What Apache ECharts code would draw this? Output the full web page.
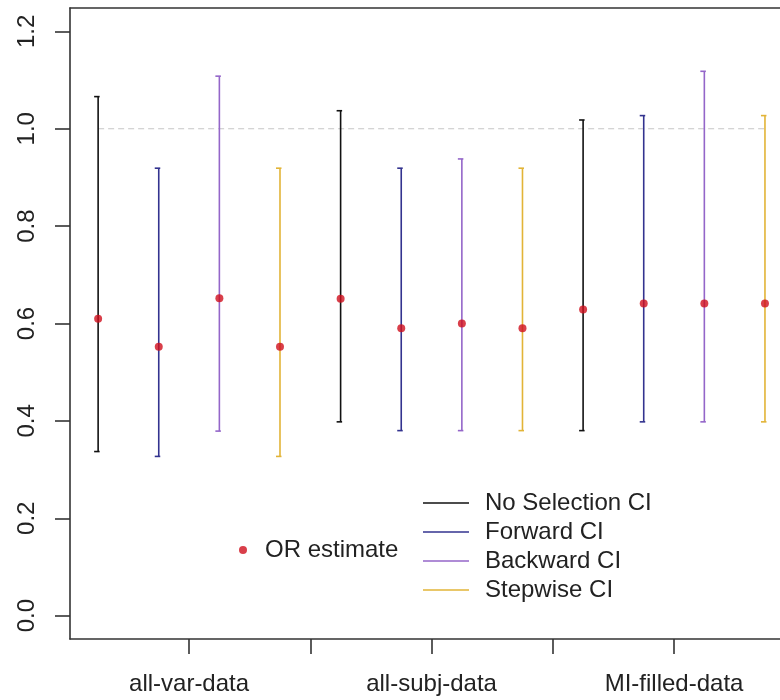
<!DOCTYPE html>
<html>
<head>
<meta charset="utf-8">
<script src="https://cdn.jsdelivr.net/npm/echarts@6/dist/echarts.min.js"></script>
<style>html,body{margin:0;padding:0;background:#fff}#c{width:780px;height:700px}</style>
</head>
<body>
<div id="c"></div>
<script>
// ---- data ----
var groups = ['all-var-data', 'all-subj-data', 'MI-filled-data'];
var methods = ['No Selection CI', 'Forward CI', 'Backward CI', 'Stepwise CI'];
var methodColors = ['#111111', '#33338f', '#9466c9', '#e2b437'];

var noSelEst   = [0.610, 0.651, 0.629];
var forwardEst = [0.552, 0.590, 0.641];
var backwardEst= [0.652, 0.600, 0.641];
var stepwiseEst= [0.552, 0.590, 0.641];

var noSelLo    = [0.337, 0.398, 0.380];
var noSelHi    = [1.066, 1.037, 1.018];
var forwardLo  = [0.327, 0.380, 0.398];
var forwardHi  = [0.919, 0.919, 1.027];
var backwardLo = [0.379, 0.380, 0.398];
var backwardHi = [1.108, 0.938, 1.118];
var stepwiseLo = [0.327, 0.380, 0.398];
var stepwiseHi = [0.919, 0.919, 1.027];

var yTicks = [0, 0.2, 0.4, 0.6, 0.8, 1.0, 1.2];
var xTicks = [1, 2, 3, 4, 5];
var xLabelTicks = [1, 3, 5];
var refValue = 1.0;

// ---- build ----
var ests = [noSelEst, forwardEst, backwardEst, stepwiseEst];
var los = [noSelLo, forwardLo, backwardLo, stepwiseLo];
var his = [noSelHi, forwardHi, backwardHi, stepwiseHi];
function xPos(g, m) { return 0.25 + 0.5 * (g * methods.length + m); }

var series = [];
methods.forEach(function (name, m) {
  var d = groups.map(function (_, g) { return [xPos(g, m), los[m][g], his[m][g]]; });
  series.push({
    type: 'custom', name: name, data: d,
    itemStyle: { color: methodColors[m] },
    encode: { x: 0, y: [1, 2] },
    renderItem: function (params, api) {
      var x = api.value(0);
      var p1 = api.coord([x, api.value(1)]);
      var p2 = api.coord([x, api.value(2)]);
      var st = { stroke: methodColors[m], lineWidth: 1.6 };
      return { type: 'group', children: [
        { type: 'line', shape: { x1: p1[0], y1: p1[1], x2: p2[0], y2: p2[1] }, style: st },
        { type: 'line', shape: { x1: p1[0] - 4, y1: p1[1], x2: p1[0] + 1.5, y2: p1[1] }, style: st },
        { type: 'line', shape: { x1: p2[0] - 4, y1: p2[1], x2: p2[0] + 1.5, y2: p2[1] }, style: st }
      ]};
    },
    z: 3
  });
});
var estData = [];
groups.forEach(function (_, g) {
  methods.forEach(function (__, m) { estData.push([xPos(g, m), ests[m][g]]); });
});
series.push({
  type: 'scatter', name: 'OR estimate', data: estData, symbol: 'circle', symbolSize: 8,
  itemStyle: { color: '#cf0f1d' }, z: 5
});
series.push({
  type: 'line', name: 'ref', data: [[xPos(0, 0), refValue], [xPos(groups.length - 1, methods.length - 1), refValue]],
  symbol: 'none', lineStyle: { color: '#c6c6c6', width: 1.2, type: [6, 4] }, z: 1, silent: true
});

var font = 'Liberation Sans, Arial, sans-serif';
var axisLineStyle = { color: '#333', width: 1.6 };
var option = {
  animation: false,
  backgroundColor: '#ffffff',
  grid: { left: 70, top: 8, bottom: 61, right: 0, show: false },
  xAxis: [{
    type: 'value', min: 0.018, max: 5.874, position: 'bottom',
    axisLine: { show: true, onZero: false, lineStyle: axisLineStyle }, splitLine: { show: false },
    axisTick: { show: true, length: 15, customValues: xTicks, lineStyle: axisLineStyle },
    axisLabel: {
      customValues: xLabelTicks, margin: 33, fontSize: 24, fontFamily: font, color: '#222',
      formatter: function (v) { return groups[xLabelTicks.indexOf(v)] || ''; }
    }
  }, {
    type: 'value', min: 0.018, max: 5.874, position: 'top',
    axisLine: { show: true, onZero: false, lineStyle: axisLineStyle }, splitLine: { show: false },
    axisTick: { show: false }, axisLabel: { show: false }
  }],
  yAxis: {
    type: 'value', min: -0.048, max: 1.248,
    axisLine: { show: true, onZero: false, lineStyle: axisLineStyle }, splitLine: { show: false },
    axisTick: { show: true, length: 15, customValues: yTicks, lineStyle: axisLineStyle },
    axisLabel: {
      customValues: yTicks, rotate: 90, margin: 31, fontSize: 24, fontFamily: font, color: '#222',
      formatter: function (v) { return v.toFixed(1); }
    }
  },
  legend: [
    {
      orient: 'vertical', left: 418, top: 486, itemWidth: 46, itemHeight: 1.6, itemGap: 5,
      icon: 'rect', data: methods,
      textStyle: { fontSize: 24, fontFamily: font, color: '#222', lineHeight: 24, padding: [0, 0, 0, 11] },
      selectedMode: false
    },
    {
      orient: 'vertical', left: 234, top: 533, itemWidth: 8, itemHeight: 8,
      icon: 'circle', data: ['OR estimate'],
      textStyle: { fontSize: 24, fontFamily: font, color: '#222', lineHeight: 24, padding: [0, 0, 0, 13] },
      selectedMode: false
    }
  ],
  series: series
};
var chart = echarts.init(document.getElementById('c'), null, { renderer: 'canvas' });
chart.setOption(option);
</script>
</body>
</html>
